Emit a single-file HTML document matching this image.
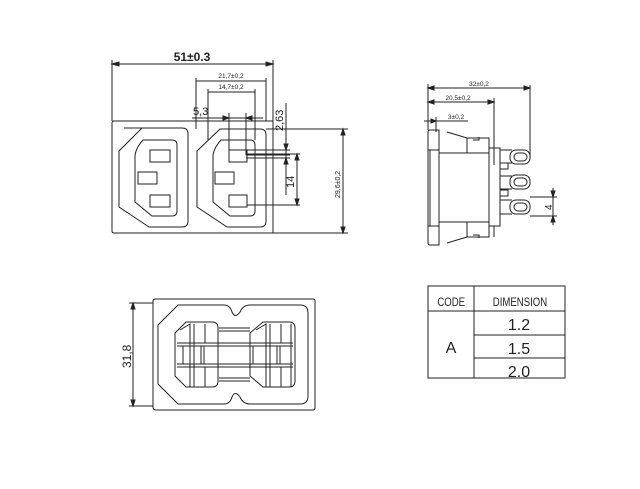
<!DOCTYPE html>
<html><head><style>body{margin:0;background:#fff}svg{display:block}text{font-family:"Liberation Sans",sans-serif;fill:#222}</style></head><body>
<svg width="640" height="489" viewBox="0 0 640 489" xmlns="http://www.w3.org/2000/svg" fill="none" stroke="#222" stroke-width="1">
<!-- front view -->
<path d="M112 123 Q112 121 114 121 H273 V233 H114 Q112 233 112 231 Z"/>
<path d="M124 128 H182 Q188 128 188 134 V221 Q188 227 182 227 H149 L119 207 V151 L142 128 Z"/>
<path d="M143 140 H172 Q177 140 177 145 V211 Q177 216 172 216 H152 L135 202 V157 Q135 149 143 140 Z"/>
<rect x="150" y="150" width="20" height="12"/><rect x="138" y="172" width="19" height="12"/><rect x="150" y="195" width="20" height="12"/>
<path d="M220 129 H260 Q266 129 266 135 V221 Q266 227 260 227 H227 L197 207 V151 L220 129 Z"/>
<path d="M221 140 H250 Q255 140 255 145 V211 Q255 216 250 216 H230 L213 202 V157 Q213 149 221 140 Z"/>
<rect x="229" y="150" width="18" height="12"/><rect x="215" y="172" width="19" height="12"/><rect x="229" y="195" width="18" height="12"/>
<!-- dims -->
<path d="M112 121 V60 M273 121 V60 M112 64 H273"/>
<path d="M112 64 l7 -2 v4 z M273 64 l-7 -2 v4 z" fill="#222"/>
<text x="192" y="61" font-size="12" font-weight="bold" text-anchor="middle" stroke="none">51±0.3</text>
<path d="M196 78 V129 M266 78 V121 M196 81 H266 M208 89 V140 M255 89 V140 M208 92 H255"/>
<text x="231" y="78" font-size="6.5" text-anchor="middle" stroke="none">21,7±0,2</text>
<text x="231" y="89" font-size="6.5" text-anchor="middle" stroke="none">14,7±0,2</text>
<path d="M229 113 V155 M246 113 V155 M192 118 H263"/>
<path d="M229 118 l-6 -2 v4 z M246 118 l6 -2 v4 z" fill="#222"/>
<text x="193" y="115" font-size="11" stroke="none">5,3</text>
<path d="M286 103 V195 M246 150 H290 M246 155 H290 M246 158 H290"/>
<path d="M286 150 l-2 -6 h4 z M286 158 l-2 6 h4 z" fill="#222"/>
<text transform="translate(283,131) rotate(-90)" font-size="11" stroke="none">2,63</text>
<path d="M247 154 H300 M247 205 H300 M297 154 V205"/>
<path d="M297 154 l-2 6 h4 z M297 205 l-2 -6 h4 z" fill="#222"/>
<text transform="translate(294,188) rotate(-90)" font-size="11" stroke="none">14</text>
<path d="M266 129 H348 M273 233 H348 M343 129 V233"/>
<path d="M343 129 l-2 6 h4 z M343 233 l-2 -6 h4 z" fill="#222"/>
<text transform="translate(340,198) rotate(-90)" font-size="7" stroke="none">29,6±0,2</text>
<!-- side view -->
<path d="M428 84 V130 M530 85 V158 M428 88 H530 M494 98 V165 M428 102 H494 M424 121 H468 M436 117 V132"/>
<path d="M428 88 l6 -2 v4 z M530 88 l-6 -2 v4 z M428 102 l6 -2 v4 z M494 102 l-6 -2 v4 z M436 121 l-5 -2 v4 z" fill="#222"/>
<text x="479" y="86" font-size="6.5" text-anchor="middle" stroke="none">32±0,2</text>
<text x="458" y="100" font-size="6.5" text-anchor="middle" stroke="none">20,5±0,2</text>
<text x="456" y="119" font-size="6.5" text-anchor="middle" stroke="none">3±0,2</text>
<path d="M430 130 H439 V245 H430 Q428 245 428 243 V132 Q428 130 430 130 Z"/>
<path d="M439 133 V242 M428 150 H439 M428 226 H439"/>
<path d="M447 132 L467 138 H489 V153 H439 M447 243 L467 237 H489 V222 H439 M430 150 V226"/>
<path d="M439 153 V222 M467 138 V153 M467 237 V222 M473 140 H479 V137 M473 235 H479 V238"/>
<path d="M489 138 V237 M489 148 H500 V226 H489 M494 138 V148 M494 226 V237"/>
<path d="M500 150 H512 M500 163 H512 M500 176 H512 M500 189 H512 M500 200 H512 M500 214 H512"/>
<rect x="500" y="163" width="8" height="6"/><rect x="500" y="190" width="8" height="6"/>
<rect x="510" y="150" width="20" height="14" rx="6"/><rect x="514" y="153" width="13" height="8" rx="4"/>
<rect x="510" y="175" width="20" height="14" rx="6"/><rect x="514" y="178" width="13" height="8" rx="4"/>
<rect x="510" y="200" width="20" height="14" rx="6"/><rect x="514" y="203" width="13" height="8" rx="4"/>
<path d="M530 197 H557 M530 216 H557 M553 188 V225"/>
<path d="M553 197 l-2 -6 h4 z M553 216 l-2 6 h4 z" fill="#222"/>
<text transform="translate(552,210) rotate(-90)" font-size="10" stroke="none">4</text>
<!-- bottom view -->
<path d="M156 299 H313 Q315 299 315 301 V408 Q315 410 313 410 H156 Q153 410 153 407 V301 Q153 299 156 299 Z"/>
<path d="M178 305 H224 Q230 305 232 312 Q235 319 240 312 Q243 305 250 305 H300 Q308 305 308 313 V396 Q308 404 300 404 H250 Q243 404 240 397 Q235 390 232 397 Q230 404 224 404 H178 L158 384 V325 Z"/>
<path d="M186 322 H212 Q218 322 218 328 V381 Q218 387 212 387 H186 L175 376 V333 Z"/>
<path d="M263 322 H289 Q295 322 295 328 V381 Q295 387 289 387 H263 L250 376 V333 Z"/>
<path d="M180 330 L190 324 V387 M194 324 V387 M205 324 V343 H214 M205 387 V367 H214 M177 343 H293 M177 346 H293 M177 364 H293 M177 367 H293 M201 346 V364 M204 346 V364 M219 328 H250 M219 331 H250 M219 378 H250 M219 381 H250 M256 330 L266 324 V387 M270 324 V387 M281 324 V343 M281 367 V387 M277 346 V364 M280 346 V364 M291 324 V387 M183 346 V364 M253 346 V364"/>
<path d="M129 303 H153 M129 406 H153 M133 303 V406"/>
<path d="M133 303 l-2 6 h4 z M133 406 l-2 -6 h4 z" fill="#222"/>
<text transform="translate(131,368) rotate(-90)" font-size="12" stroke="none">31,8</text>
<!-- table -->
<rect x="428" y="286" width="137" height="92"/>
<path d="M474 286 V378 M428 311 H565 M474 335 H565 M474 358 H565"/>
<g stroke="none" font-size="12" transform="scale(0.8,1)">
<text x="564" y="306" text-anchor="middle">CODE</text>
<text x="650" y="306" text-anchor="middle">DIMENSION</text>
</g>
<g stroke="none" font-size="16" fill="#444">
<text x="451" y="353" text-anchor="middle">A</text>
<text x="519" y="330" text-anchor="middle">1.2</text>
<text x="519" y="354" text-anchor="middle">1.5</text>
<text x="519" y="377" text-anchor="middle">2.0</text>
</g>
</svg>
</body></html>
